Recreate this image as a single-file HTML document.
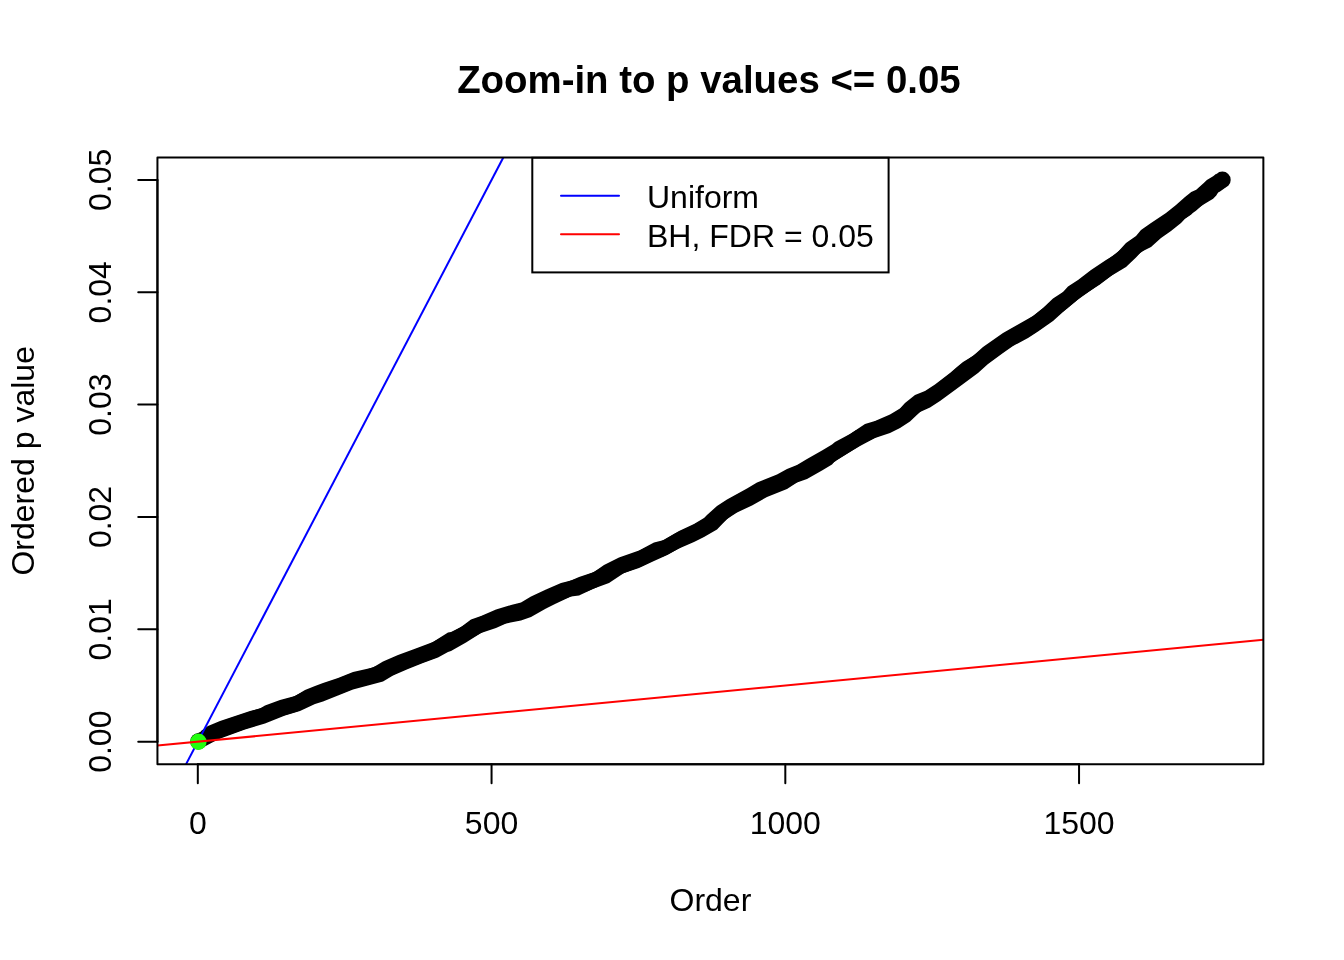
<!DOCTYPE html>
<html><head><meta charset="utf-8"><style>
html,body{margin:0;padding:0;background:#fff;}
svg{display:block;will-change:transform;}
text{-webkit-font-smoothing:antialiased;}
text{font-family:"Liberation Sans",sans-serif;font-size:32px;fill:#000;}
</style></head><body>
<svg width="1344" height="960" viewBox="0 0 1344 960">
<rect x="0" y="0" width="1344" height="960" fill="#fff"/>
<defs><clipPath id="pc"><rect x="157.44" y="157.44" width="1105.92" height="606.72"/></clipPath></defs>
<g clip-path="url(#pc)">
<polyline points="198.4,741.4 220,729.85 235,724.6 250,719.5 265,714.5 280,708.75 295,704.25 305,699.35 315,695 323,692.25 338,686.75 353,680.75 368,677 383,671.5 398,664.2 413,658.25 433,650.65 448,642.25 457,638 466,632.85 481,624.5 496,618.75 511,613.75 521,611.5 531,606.75 546,599 561,592.1 571,588.5 585,584 594,580.25 604,574.9 619,566.9 639,559.25 654,551.75 664,548.25 679,539.75 694,533 704,527.5 713,521.75 717,517.75 727,509.25 737,503.25 752,495.5 767,487.75 787,479 797,473.75 807,469 822,460.5 832,454.5 841,448.75 850,443 860,436.65 875,429.5 890,423.75 900,418.25 910,410.25 920,402.5 930,397.6 940,390.85 955,379.2 963,372 983,357.75 1003,343 1013,336.65 1028,328.4 1038,321.75 1053,309.75 1063,302 1078,289.75 1095,278.7 1111,266.5 1126,255 1136,246.75 1151,235 1161,227.15 1171,220 1181,212 1191,205.1 1201,196.35 1211,188 1222.4,179.9" fill="none" stroke="#000" stroke-width="15" stroke-linejoin="round" stroke-linecap="round"/>
<polygon points="201,731 208,726 220,721 235,716 250,711 260,708.5 265,705.5 280,700 295,696 305,690 315,686 323,683 338,678 353,672 373,667.5 383,661.5 398,655 413,649.5 433,642 448,632.5 451,632 461,627 471,619.5 481,616 496,609.5 511,605 521,602.5 531,596.5 546,589.5 561,583 571,580.5 579,577 594,572 604,565 619,557.5 639,550.5 654,542.5 664,540 679,531 694,524 704,518 707,515 717,506 727,499.5 747,488.5 757,482.5 777,474.5 787,469 797,465 807,459 822,450.5 832,444.5 835,442 850,434 865,424 875,421 890,414.5 900,408.5 905,403 915,395 925,391 935,384.5 950,373 957,367 963,362 973,356 983,347 1003,333 1018,324.5 1033,316 1043,308 1053,298.5 1063,292 1068,286.5 1078,280 1091,270 1106,260 1116,254 1126,243 1136,236 1141,230 1151,223 1166,213 1176,205 1185,196.88 1191.25,191.88 1196.25,189.69 1203.75,183.12 1206.88,180 1213.12,176.25 1216.25,173.75 1225.62,187.5 1220,191.56 1218.12,192.5 1216.25,195.62 1213.12,198.75 1206.88,202.5 1200.62,206.25 1194.38,210.62 1191.25,214.38 1185,218.75 1181,223 1171,231 1161,238 1151,247 1141,252 1136,257.5 1126,267 1111,276 1078,299.5 1063,312 1053,321 1038,331.5 1028,338 1013,346 1003,353 988,364 978,373 955,390 940,401 930,407.5 920,412 910,421.5 900,428 890,433 875,438 860,446 850,452 835,461 832,464.5 822,470.5 807,479 797,482.5 787,489 767,497 752,505.5 737,512.5 727,519 717,529.5 704,537 694,542 679,548.5 664,556.5 654,561 639,568 624,573 609,583 594,588.5 579,595.5 571,596.5 556,603.5 546,608.5 531,617 521,620.5 506,623.5 496,628 481,633 466,642.5 451,651 448,652 438,657.5 423,663 408,669 393,675.5 383,681.5 368,685.5 353,689.5 338,695.5 323,701.5 315,704 300,711 285,715.5 270,721.5 265,723.5 245,729.5 230,735 215,740.5 205,745" fill="#000"/>
<circle cx="198.4" cy="741.4" r="8.2" fill="#000"/>
<circle cx="1222.4" cy="179.9" r="8.3" fill="#000"/>
<line x1="186.06" y1="764.16" x2="503.31" y2="157.44" stroke="#0000ff" stroke-width="2"/>
<circle cx="198.4" cy="741.69" r="8.2" fill="#22ff0e"/>
<line x1="157.44" y1="745.55" x2="1263.36" y2="639.8" stroke="#ff0000" stroke-width="2"/>
</g>
<g stroke="#000" stroke-width="2" stroke-linecap="round" fill="none">
<rect x="157.44" y="157.44" width="1105.92" height="606.72" stroke-linejoin="round"/>
<line x1="197.81" y1="764.16" x2="1079.05" y2="764.16"/>
<line x1="157.44" y1="741.69" x2="157.44" y2="179.91"/>
<line x1="197.81" y1="764.16" x2="197.81" y2="783.36"/><line x1="491.56" y1="764.16" x2="491.56" y2="783.36"/><line x1="785.31" y1="764.16" x2="785.31" y2="783.36"/><line x1="1079.05" y1="764.16" x2="1079.05" y2="783.36"/><line x1="157.44" y1="741.69" x2="138.24" y2="741.69"/><line x1="157.44" y1="629.33" x2="138.24" y2="629.33"/><line x1="157.44" y1="516.98" x2="138.24" y2="516.98"/><line x1="157.44" y1="404.62" x2="138.24" y2="404.62"/><line x1="157.44" y1="292.27" x2="138.24" y2="292.27"/><line x1="157.44" y1="179.91" x2="138.24" y2="179.91"/>
</g>
<text x="708.9" y="92.9" text-anchor="middle" style="font-weight:bold;font-size:38.4px">Zoom-in to p values &lt;= 0.05</text>
<text x="197.81" y="833.6" text-anchor="middle">0</text><text x="491.56" y="833.6" text-anchor="middle">500</text><text x="785.31" y="833.6" text-anchor="middle">1000</text><text x="1079.05" y="833.6" text-anchor="middle">1500</text>
<text transform="translate(110.5,741.69) rotate(-90)" text-anchor="middle">0.00</text><text transform="translate(110.5,629.33) rotate(-90)" text-anchor="middle">0.01</text><text transform="translate(110.5,516.98) rotate(-90)" text-anchor="middle">0.02</text><text transform="translate(110.5,404.62) rotate(-90)" text-anchor="middle">0.03</text><text transform="translate(110.5,292.27) rotate(-90)" text-anchor="middle">0.04</text><text transform="translate(110.5,179.91) rotate(-90)" text-anchor="middle">0.05</text>
<text x="710.4" y="910.6" text-anchor="middle">Order</text>
<text transform="translate(34.2,460.8) rotate(-90)" text-anchor="middle">Ordered p value</text>
<rect x="532.3" y="157.8" width="356.3" height="114.6" fill="#fff" stroke="#000" stroke-width="2"/>
<line x1="561" y1="195.8" x2="619" y2="195.8" stroke="#0000ff" stroke-width="2" stroke-linecap="round"/>
<line x1="561" y1="234.2" x2="619" y2="234.2" stroke="#ff0000" stroke-width="2" stroke-linecap="round"/>
<text x="647" y="208.2">Uniform</text>
<text x="647" y="246.6">BH, FDR = 0.05</text>
</svg>
</body></html>
